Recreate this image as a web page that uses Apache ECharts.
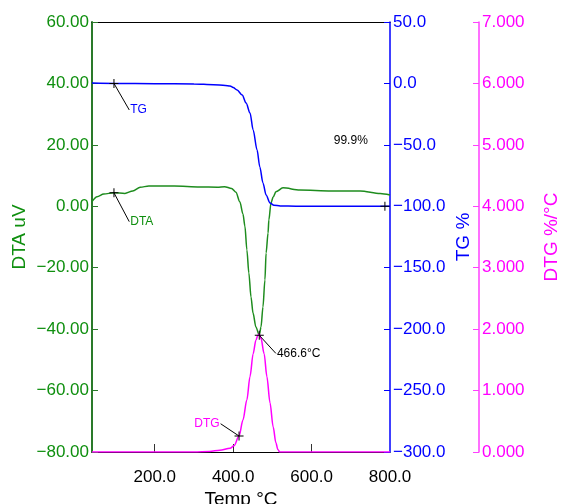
<!DOCTYPE html>
<html>
<head>
<meta charset="utf-8">
<script src="https://cdn.jsdelivr.net/npm/echarts@6/dist/echarts.min.js"></script>
<style>
  html, body { margin: 0; padding: 0; background: #fff; }
  #chart { width: 562px; height: 504px; }
</style>
</head>
<body>
<div id="chart"></div>
<script>
// temperatures (°C) and readings
var dtaTemp = [40, 53, 70, 96, 124, 144, 163, 185, 250, 315, 360, 378, 396, 407, 417, 425, 430, 435, 440, 445.5, 450.6, 458, 466.6, 471, 476, 481, 484, 489, 491, 496.5, 502, 509, 527, 570, 650, 724, 775, 800];
var dtaVal  = [1.5, 3.1, 4.0, 4.4, 4.2, 5.0, 6.2, 6.6, 6.6, 6.3, 6.2, 6.4, 5.8, 4.6, 1.5, -2.5, -6.5, -14.2, -21.7, -29.5, -34.7, -39.3, -42.0, -39.3, -32.8, -24.0, -15.2, -8.7, -4.5, 1.1, 3.0, 4.7, 6.0, 5.3, 5.0, 5.0, 4.2, 3.7];

var tgTemp = [40, 100, 200, 300, 350, 380, 392, 400, 410, 423, 433, 443, 451, 461, 468, 476, 484, 494, 504, 520, 560, 650, 800];
var tgVal  = [0.3, 0.0, -0.2, -0.5, -1.0, -1.6, -2.1, -3.3, -5.3, -9.4, -15.9, -24.0, -37.9, -54.2, -68.0, -81.0, -90.8, -97.3, -99.2, -99.7, -99.9, -99.9, -99.9];

var dtgTemp = [40, 300, 340, 366, 392, 402, 415, 425, 435, 443, 451, 458, 463, 466.6, 471, 479, 486, 494, 502, 509, 514, 519, 800];
var dtgVal  = [0, 0, 0.01, 0.03, 0.06, 0.10, 0.26, 0.52, 0.85, 1.23, 1.60, 1.82, 1.90, 1.92, 1.85, 1.60, 1.23, 0.80, 0.41, 0.15, 0.04, 0, 0];

var xLabels = [200, 400, 600, 800];
var xTicks = [200, 400, 600];

// cursor marks and notes
var tgMarks = [[96, 0], [787, -99.9]];
var dtaMarks = [[96, 4.4], [466.6, -42.0]];
var dtgMarks = [[415, 0.26]];
var tgLeader = [[96, 0], [135, -21.6]];
var dtaLeader = [[96, 4.4], [135, -5.0]];
var peakLeader = [[466.6, -42.0], [509, -47.9]];
var dtgLeader = [[415, 0.26], [368, 0.46]];

var FONT = "'Liberation Sans', Arial, sans-serif";
var GREEN = '#0f8f0f', BLUE = '#0000ff', PINK = '#ff00ff';
var PLUS = 'path://M4,0h1v4h4v1h-4v4h-1v-4h-4v-1h4z';

function pairs(xs, ys) {
    var out = [];
    for (var i = 0; i < xs.length; i++) out.push([xs[i], ys[i]]);
    return out;
}
function fmt(d) {
    return function (v) {
        return (v < 0 ? '\u2212' : '') + Math.abs(v).toFixed(d);
    };
}
function plusMarks(list) {
    return list.map(function (p) {
        return { coord: p, symbol: PLUS, symbolSize: 9, itemStyle: { color: '#000' }, label: { show: false } };
    });
}
function note(at, text, color, pos) {
    return {
        coord: at, symbol: 'circle', symbolSize: 0,
        label: { show: true, position: pos, distance: 1, formatter: text, color: color, fontSize: 12, fontFamily: FONT }
    };
}
function leader(l) {
    return [{ coord: l[0] }, { coord: l[1] }];
}
var leaderStyle = { symbol: 'none', silent: true, label: { show: false }, lineStyle: { color: '#000', width: 1, type: 'solid' } };

function yAxis(pos, offset, min, max, step, dec, color, lineColor, name, gap) {
    return {
        type: 'value', position: pos, offset: offset, min: min, max: max, interval: step,
        name: name, nameLocation: 'middle', nameRotate: 90, nameGap: gap, nameMoveOverlap: false,
        nameTextStyle: { color: color, fontSize: 19, fontFamily: FONT },
        axisLine: { show: true, onZero: false, lineStyle: { color: lineColor, width: pos == 'left' ? 2 : 1.5 } },
        axisTick: { show: true, inside: true, length: 6, lineStyle: { color: lineColor } },
        axisLabel: { color: color, fontSize: 17, fontFamily: FONT, margin: 3, formatter: fmt(dec) },
        splitLine: { show: false }
    };
}

var chart = echarts.init(document.getElementById('chart'), null, { renderer: 'canvas' });

chart.setOption({
    animation: false,
    backgroundColor: '#fff',
    grid: { left: 92, right: 172, top: 22, bottom: 52, containLabel: false, outerBoundsMode: 'none' },
    xAxis: [{
        type: 'value', min: 40, max: 800,
        name: 'Temp \u00b0C', nameLocation: 'middle', nameGap: 38, nameMoveOverlap: false,
        nameTextStyle: { color: '#000', fontSize: 19, fontFamily: FONT },
        axisLine: { show: true, onZero: false, lineStyle: { color: '#000', width: 1 } },
        axisTick: { show: true, inside: true, length: 8, customValues: xTicks, lineStyle: { color: '#333' } },
        axisLabel: { color: '#000', fontSize: 17, fontFamily: FONT, margin: 17, customValues: xLabels, formatter: fmt(1) },
        splitLine: { show: false }
    }, {
        type: 'value', min: 40, max: 800, position: 'top',
        axisLine: { show: true, onZero: false, lineStyle: { color: '#000', width: 1 } },
        axisTick: { show: false }, axisLabel: { show: false }, splitLine: { show: false }
    }],
    yAxis: [
        yAxis('left', 0, -80, 60, 20, 2, GREEN, '#2a7a2a', 'DTA uV', 63),
        yAxis('right', 0, -300, 50, 50, 1, BLUE, BLUE, 'TG %', 64),
        yAxis('right', 89, 0, 7, 1, 3, PINK, '#ff40ff', 'DTG %/\u00b0C', 63)
    ],
    series: [{
        name: 'DTA', type: 'line', xAxisIndex: 0, yAxisIndex: 0,
        data: pairs(dtaTemp, dtaVal), showSymbol: false, smooth: 0.3, smoothMonotone: 'x',
        lineStyle: { color: '#1e8c1e', width: 1.5 },
        markPoint: { label: { show: false }, data: plusMarks(dtaMarks).concat([
            note(dtaLeader[1], 'DTA', GREEN, 'right'),
            note(peakLeader[1], '466.6\u00b0C', '#000', 'right')
        ]) },
        markLine: Object.assign({ data: [leader(dtaLeader), leader(peakLeader)] }, leaderStyle)
    }, {
        name: 'TG', type: 'line', xAxisIndex: 0, yAxisIndex: 1,
        data: pairs(tgTemp, tgVal), showSymbol: false, smooth: 0.3, smoothMonotone: 'x',
        lineStyle: { color: BLUE, width: 1.5 },
        markPoint: { label: { show: false }, data: plusMarks(tgMarks).concat([
            note(tgLeader[1], 'TG', BLUE, 'right'),
            note([700, -46.6], '99.9%', '#000', 'inside')
        ]) },
        markLine: Object.assign({ data: [leader(tgLeader)] }, leaderStyle)
    }, {
        name: 'DTG', type: 'line', xAxisIndex: 0, yAxisIndex: 2,
        data: pairs(dtgTemp, dtgVal), showSymbol: false, smooth: 0.3, smoothMonotone: 'x',
        lineStyle: { color: PINK, width: 1.5 },
        markPoint: { label: { show: false }, data: plusMarks(dtgMarks).concat([
            note(dtgLeader[1], 'DTG', PINK, 'left')
        ]) },
        markLine: Object.assign({ data: [leader(dtgLeader)] }, leaderStyle)
    }]
});
</script>
</body>
</html>
